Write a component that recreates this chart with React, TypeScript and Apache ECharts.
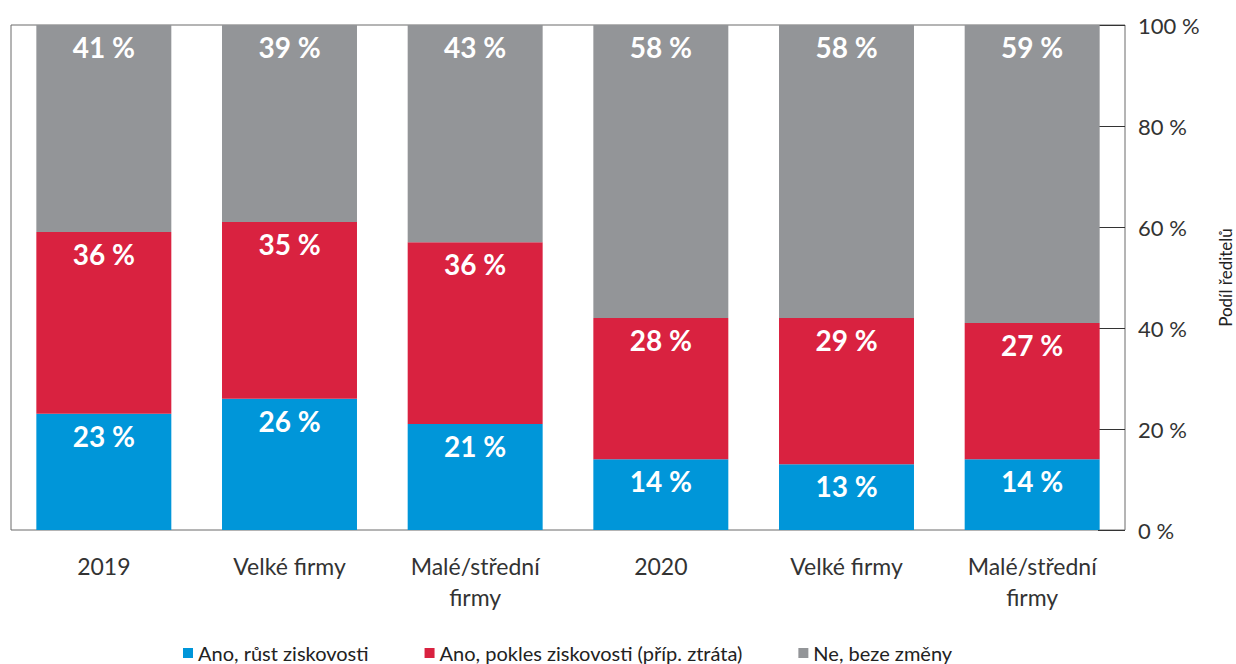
import React, { useEffect, useRef } from "react";
import * as echarts from "echarts";

const categories = ["2019", "Velké firmy", "Malé/střední\nfirmy", "2020", "Velké firmy", "Malé/střední\nfirmy"];
const rustValues = [23, 26, 21, 14, 13, 14];
const poklesValues = [36, 35, 36, 28, 29, 27];
const bezeZmenyValues = [41, 39, 43, 58, 58, 59];
const seriesNames = ["Ano, růst ziskovosti", "Ano, pokles ziskovosti (příp. ztráta)", "Ne, beze změny"];
const yTicks = { min: 0, max: 100, interval: 20 };

const FONT = "Lato, 'Noto Sans', sans-serif";

export default function App() {
  const ref = useRef<HTMLDivElement>(null);
  useEffect(() => {
    if (!ref.current) return;
    const chart = echarts.init(ref.current, null, { renderer: "svg" });
    const label = {
      show: true,
      position: "insideTop",
      distance: 8,
      color: "#ffffff",
      fontWeight: "bold",
      fontSize: 28,
      fontFamily: FONT,
      formatter: "{c} %",
    };
    const mk = (name: string, data: number[], color: string) => ({
      name,
      type: "bar",
      stack: "total",
      data,
      barWidth: "72.7%",
      itemStyle: { color },
      label,
    });
    chart.setOption({
      animation: false,
      textStyle: { fontFamily: FONT },
      grid: {
        left: 11,
        right: 111,
        top: 25,
        bottom: 134,
        show: true,
        borderColor: "#6b6b6b",
        borderWidth: 1,
        backgroundColor: "transparent",
        outerBoundsMode: "none",
        containLabel: false,
      },
      legend: {
        top: 641,
        left: 178,
        padding: [2, 5, 2, 5],
        icon: "rect",
        itemWidth: 10,
        itemHeight: 10,
        itemGap: 56,
        textStyle: { fontSize: 20, color: "#222", fontFamily: FONT },
        data: seriesNames,
      },
      xAxis: {
        type: "category",
        data: categories,
        axisLine: { show: false },
        axisTick: { show: false },
        axisLabel: {
          fontSize: 23,
          lineHeight: 31,
          color: "#333",
          margin: 20,
          fontFamily: FONT,
          interval: 0,
        },
      },
      yAxis: {
        type: "value",
        position: "right",
        min: yTicks.min,
        max: yTicks.max,
        interval: yTicks.interval,
        name: "Podíl ředitelů",
        nameLocation: "middle",
        nameRotate: 90,
        nameGap: 92,
        nameTextStyle: { fontSize: 17, color: "#222", fontFamily: FONT },
        axisLine: { show: false },
        axisTick: { show: true, inside: true, length: 27, lineStyle: { color: "#333" } },
        splitLine: { show: false },
        axisLabel: {
          formatter: "{value} %",
          fontSize: 22,
          color: "#333",
          margin: 13,
          fontFamily: FONT,
        },
      },
      series: [
        mk(seriesNames[0], rustValues, "#0096d9"),
        mk(seriesNames[1], poklesValues, "#d92240"),
        mk(seriesNames[2], bezeZmenyValues, "#939598"),
      ],
    });
    return () => chart.dispose();
  }, []);
  return (
    <div
      ref={ref}
      style={{ position: "fixed", left: 0, top: 0, width: 1236, height: 664, background: "#fff" }}
    />
  );
}
